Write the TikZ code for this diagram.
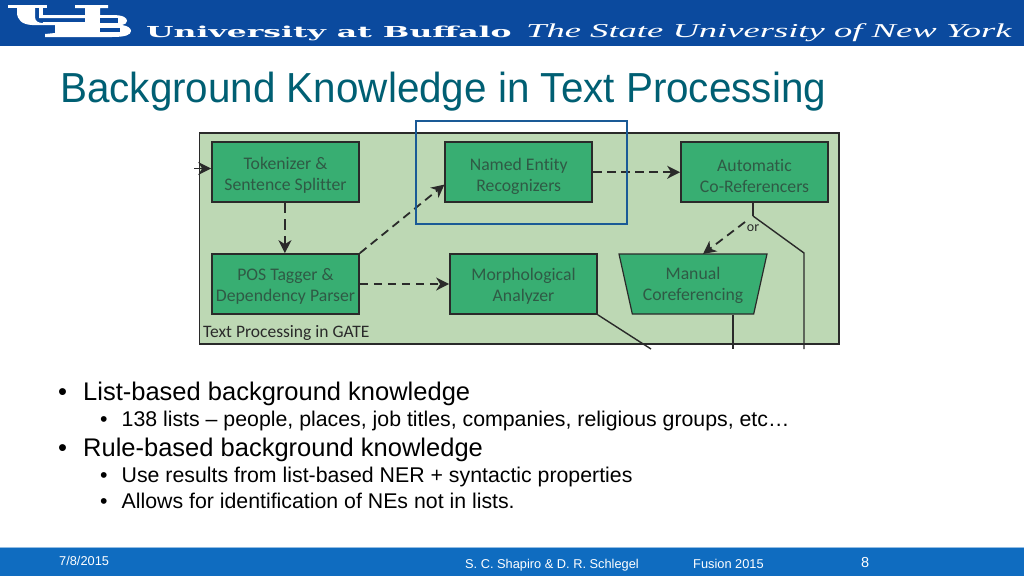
\documentclass[tikz,border=0pt]{standalone}
\usepackage{fontspec}
\usepackage{graphicx}
\setmainfont{Liberation Sans}
\newfontfamily\carl[Ligatures=NoCommon]{Carlito}
\newfontfamily\wideserif{DejaVu Serif}
\newfontfamily\romanserif{Liberation Serif}
\usetikzlibrary{arrows.meta,shapes.geometric,calc}
\definecolor{ubblue}{HTML}{0B4A9E}
\definecolor{tealt}{HTML}{005F73}
\definecolor{panel}{HTML}{BDD8B4}
\definecolor{boxgreen}{HTML}{38AE72}
\definecolor{ink}{HTML}{2A2A2A}
\definecolor{hl}{HTML}{1A5A96}
\definecolor{labelink}{HTML}{2F5A45}
\definecolor{foot}{HTML}{0F6CC0}
\newcommand\dn[1]{\rule{0pt}{#1pt}}
\tikzset{
  box/.style={draw=ink,line width=1.7pt,fill=boxgreen,inner sep=0pt,minimum width=147pt,minimum height=60pt,
     font=\carl\fontsize{17.7}{21}\selectfont,text=labelink,align=center},
  dashlink/.style={draw=ink,line width=1.8pt,dash pattern=on 8.5pt off 5.5pt,-{Stealth[length=13pt,width=13pt,inset=4pt]}},
  solidlink/.style={draw=ink,line width=1.4pt},
  bul/.style={anchor=base west,inner sep=0pt,text=black},
  big/.style={bul,font=\fontsize{25.5}{28}\selectfont},
  small/.style={bul,font=\fontsize{21.3}{24}\selectfont},
  foottext/.style={anchor=base west,inner sep=0pt,text=white,font=\fontsize{12.8}{14}\selectfont}
}
\begin{document}
\begin{tikzpicture}[x=1pt,y=-1pt]
\useasboundingbox (0,0) rectangle (1024,576);
\fill[white] (0,0) rectangle (1024,576);
% banner
\fill[ubblue] (0,0) rectangle (1024,46);
% logo
\fill[white] (8,5) rectangle (47,8);
\fill[white] (17,8) -- (35,8) -- (35,17) .. controls (35,21) and (38,23) .. (43,23) -- (43,25) -- (32,25) .. controls (22,24.5) and (17,20) .. (17,12) -- cycle;
\fill[white] (39,8) rectangle (43,18);
\fill[white] (39,15) -- (85,15) -- (85,8) -- (75,8) -- (75,5) -- (108,5) -- (108,8) -- (100,8) -- (100,15) -- (112,15) .. controls (124,15) and (127,18) .. (127,21) .. controls (127,23) and (125,24.5) .. (122,25) .. controls (128,26) and (131,28) .. (131,31) .. controls (131,35) and (125,37) .. (112,37) -- (45,37) -- (45,34) -- (55,33) -- (55,25) -- (43,25) -- (43,22) -- (85,22) -- (85,18) -- (39,18) -- cycle;
\fill[ubblue] (100,18) rectangle (118,23);
\fill[ubblue] (100,28) rectangle (120,32);
\node[anchor=base west,inner sep=0pt,text=white] (ub) at (146,37) {\scalebox{1.75}[0.84]{\wideserif\bfseries\fontsize{18}{20}\selectfont University at Buffalo}};
\node[anchor=base west,inner sep=0pt,text=white] (suny) at (526,37) {\scalebox{1.524}[0.82]{\romanserif\itshape\fontsize{24}{26}\selectfont The State University of New York}};
% title
\node[anchor=base west,inner sep=0pt,text=tealt] (title) at (60,102) {\scalebox{0.962}[1]{\fontsize{42}{46}\selectfont Background Knowledge in Text Processing}};
% panel
\draw[draw=ink,line width=1.2pt,fill=panel] (199.5,133) rectangle (839,344);
\node[anchor=base west,inner sep=0pt,text=ink,font=\carl\fontsize{17.5}{20}\selectfont] (plabel) at (203,337.5) {Text Processing in GATE};
% boxes
\node[box] (tok) at (285.5,172) {\dn{19}Tokenizer \&\\Sentence Splitter};
\node[box] (ner) at (518.75,172.25) {\dn{20}Named Entity\\Recognizers};
\node[box] (auto) at (754.5,172.25) {\dn{20}Automatic\\Co-Referencers};
\node[box] (pos) at (285.5,284) {\dn{16}POS Tagger \&\\Dependency Parser};
\node[box] (mor) at (523.5,284) {\dn{16}Morphological\\Analyzer};
\node[box,line width=1.2pt,shape=trapezium,shape border rotate=180,trapezium angle=71.6,trapezium stretches body,minimum width=148pt] (man) at (693,284) {\dn{16}Manual\\Coreferencing};
\coordinate (inp) at (194,168.5);
\coordinate (fork) at (753,216);
\coordinate (forkd) at (745,222);
\coordinate (mantop) at (703,254);
\coordinate (bend) at (804,253);
\coordinate (rightEnd) at (804,349);
\coordinate (manEnd) at (733,349);
\coordinate (morEnd) at (651,349);
\node[inner sep=0pt,text=ink,font=\carl\fontsize{14}{16}\selectfont] (orl) at (753,228) {or};
% links
\draw[solidlink,-{Stealth[length=13pt,width=13pt,inset=4pt]}] (inp) -- (inp -| tok.west);
\draw[dashlink,dash pattern=on 10.5pt off 6pt] (tok.south) ++(-0.6,0) -- ($(pos.north)+(-0.6,0)$);
\draw[dashlink] (pos.north east) -- ($(ner.south west)!0.3!(ner.north west)$);
\draw[dashlink] (pos.east) -- (mor.west);
\draw[dashlink] (ner.east) -- (auto.west);
\draw[solidlink] (fork |- auto.south) -- (fork);
\draw[solidlink] (fork) -- (bend) -- (rightEnd);
\draw[dashlink] (forkd) -- (mantop);
\draw[solidlink] (manEnd |- man.south) -- (manEnd);
\draw[solidlink] (mor.south east) -- (morEnd);
% highlight
\draw[hl,line width=1.7pt] (416,121) rectangle (627,224);
% bullets
\node[big] (b1m) at (58,400) {•};
\node[big] (b1) at (83,400) {List-based background knowledge};
\node[small] (b2m) at (100,426.5) {•};
\node[small] (b2) at (121.5,426.5) {138 lists – people, places, job titles, companies, religious groups, etc…};
\node[big] (b3m) at (58,456.5) {•};
\node[big] (b3) at (83,456.5) {Rule-based background knowledge};
\node[small] (b4m) at (100,482.5) {•};
\node[small] (b4) at (121.5,482.5) {Use results from list-based NER + syntactic properties};
\node[small] (b5m) at (100,508.5) {•};
\node[small] (b5) at (121.5,508.5) {Allows for identification of NEs not in lists.};
% footer
\fill[foot] (0,547) rectangle (1024,576);
\draw[foot!45,line width=0.8pt] (0,547) -- (1024,547);
\node[foottext] (date) at (59,565) {7/8/2015};
\node[foottext] (auth) at (465,568) {S. C. Shapiro \& D. R. Schlegel};
\node[foottext] (conf) at (693,568) {Fusion 2015};
\node[foottext,font=\fontsize{14.5}{16}\selectfont] (num) at (861,567.5) {8};
\end{tikzpicture}
\end{document}
